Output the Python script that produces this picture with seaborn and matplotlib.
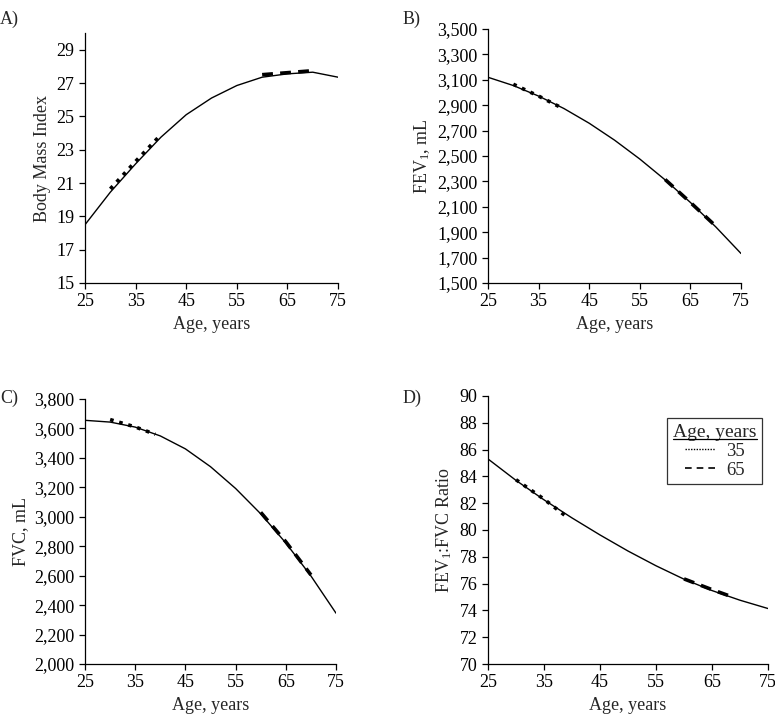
import numpy as np
import pandas as pd
import matplotlib
matplotlib.use("Agg")
from matplotlib import pyplot as plt
from matplotlib.ticker import FuncFormatter
import seaborn as sns

# Age grid for the fitted curves
ages = [25, 30, 35, 40, 45, 50, 55, 60, 65, 70, 75]

# Fitted curves (solid)
bmi_fit = [18.5, 20.45, 22.15, 23.75, 25.1, 26.1, 26.85, 27.35, 27.55, 27.65, 27.35]
fev1_fit = [3120, 3055, 2972, 2874, 2758, 2625, 2476, 2312, 2134, 1942, 1732]
fvc_fit = [3655, 3643, 3609, 3549, 3461, 3340, 3192, 3020, 2822, 2598, 2345]
ratio_fit = [85.3, 83.7, 82.25, 80.9, 79.63, 78.43, 77.33, 76.33, 75.48, 74.76, 74.14]

# Age-35 cohort segments (dotted)
young_ages_ab = [30, 35, 40]
young_ages_cd = [30, 35, 39]
bmi_young = [20.65, 22.3, 23.9]
fev1_young = [3065, 2972, 2870]
fvc_young = [3660, 3610, 3560]
ratio_young = [83.75, 82.3, 81.0]

# Age-65 cohort segments (dashed)
old_ages_abc = [60, 65, 70]
old_ages_d = [60, 65, 69]
bmi_old = [27.5, 27.62, 27.74]
fev1_old = [2315, 2134, 1948]
fvc_old = [3030, 2830, 2605]
ratio_old = [76.35, 75.55, 74.95]

sns.set_style("ticks")
plt.rcParams['font.family'] = ['Liberation Serif', 'DejaVu Serif']
plt.rcParams['mathtext.fontset'] = 'custom'
plt.rcParams['mathtext.rm'] = 'Liberation Serif'
plt.rcParams['mathtext.it'] = 'Liberation Serif:italic'
plt.rcParams['font.size'] = 11.5

fig = plt.figure(figsize=(7.75, 7.15), dpi=100)

panels = [
    ("A)", [0.1097, 0.6042, 0.3265, 0.3496], bmi_fit, young_ages_ab, bmi_young,
     old_ages_abc, bmi_old, (15, 30), np.arange(15, 30, 2), "Body Mass Index", False),
    ("B)", [0.6297, 0.6042, 0.3265, 0.3552], fev1_fit, young_ages_ab, fev1_young,
     old_ages_abc, fev1_old, (1500, 3500), np.arange(1500, 3501, 200), "FEV$_1$, mL", True),
    ("C)", [0.1097, 0.0713, 0.3239, 0.3707], fvc_fit, young_ages_cd, fvc_young,
     old_ages_abc, fvc_old, (2000, 3800), np.arange(2000, 3801, 200), "FVC, mL", True),
    ("D)", [0.6297, 0.0713, 0.3613, 0.3749], ratio_fit, young_ages_cd, ratio_young,
     old_ages_d, ratio_old, (70, 90), np.arange(70, 91, 2), "FEV$_1$:FVC Ratio", False),
]

label_pos = {"A)": (0.0, 0.985), "B)": (0.52, 0.985), "C)": (0.0, 0.455), "D)": (0.52, 0.455)}

leg = None
for tag, rect, fit, yages, young, oages, old, ylim, yticks, ylabel, comma in panels:
    ax = fig.add_axes(rect)
    df_fit = pd.DataFrame({"age": ages, "val": fit})
    df_young = pd.DataFrame({"age": yages, "val": young})
    df_old = pd.DataFrame({"age": oages, "val": old})
    sns.lineplot(data=df_fit, x="age", y="val", color="black", lw=1.0, ax=ax)
    sns.lineplot(data=df_young, x="age", y="val", color="black", lw=2.6,
                 linestyle=(0, (1, 1.6)), ax=ax, label="35")
    sns.lineplot(data=df_old, x="age", y="val", color="black", lw=2.6,
                 linestyle=(0, (3, 2)), ax=ax, label="65")
    ax.set_xlim(25, 75)
    ax.set_ylim(*ylim)
    ax.set_xticks(range(25, 76, 10))
    ax.set_yticks(yticks)
    if comma:
        ax.yaxis.set_major_formatter(FuncFormatter(lambda v, p: f"{int(v):,}"))
    ax.set_xlabel("Age, years", fontsize=13)
    ax.set_ylabel(ylabel, fontsize=13)
    sns.despine(ax=ax)
    for s in ax.spines.values():
        s.set_color("black")
        s.set_linewidth(0.9)
    ax.tick_params(colors="black", labelsize=13, length=4, width=0.9)
    fig.text(*label_pos[tag], tag, fontsize=13, va="top", ha="left")

    if tag == "D)":
        handles = [plt.Line2D([], [], color="black", lw=1.0, linestyle=(0, (1, 1))),
                   plt.Line2D([], [], color="black", lw=1.2, linestyle=(0, (4, 3)))]
        leg = ax.legend(handles, ["35", "65"], title="Age, years",
                        loc="upper right", bbox_to_anchor=(0.979, 0.918),
                        frameon=True, fancybox=False, edgecolor="black",
                        fontsize=13.5, title_fontsize=14, handlelength=1.6,
                        borderpad=0.3, labelspacing=0.1, handletextpad=0.6,
                        borderaxespad=0)
        leg.get_frame().set_linewidth(0.9)
    else:
        ax.get_legend().remove()

# underline the legend title
fig.canvas.draw()
bb = leg.get_title().get_window_extent().transformed(fig.transFigure.inverted())
fig.add_artist(plt.Line2D([bb.x0, bb.x1], [bb.y0 + 0.002, bb.y0 + 0.002],
                          color="black", lw=0.9, transform=fig.transFigure))

fig.savefig("out.png", dpi=100)
